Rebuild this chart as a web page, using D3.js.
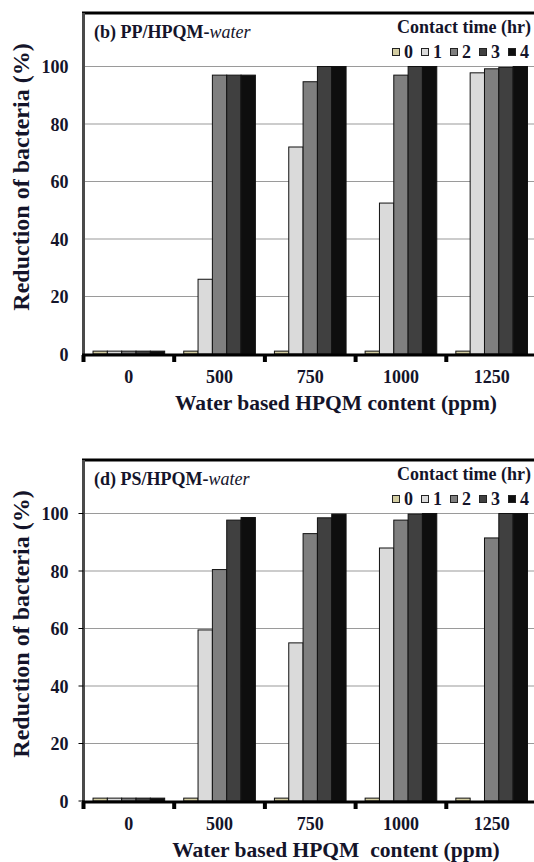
<!DOCTYPE html>
<html>
<head>
<meta charset="utf-8">
<title>Reduction of bacteria</title>
<script src="https://d3js.org/d3.v7.min.js"></script>
<style>
  body { margin: 0; background: #fff; }
</style>
</head>
<body>
<div id="chart"></div>
<script type="text/javascript">

  const categories = ["0", "500", "750", "1000", "1250"];
  const times = ["0", "1", "2", "3", "4"];
  const timeColors = ["#d3cda2", "#dadada", "#7f7f7f", "#404040", "#0e0e0e"];
  const yTicks = [0, 20, 40, 60, 80, 100];

  // (b) PP/HPQM-water, one array per contact time, values per category
  const pp0 = [1, 1, 1, 1, 1];
  const pp1 = [1, 26, 72, 52.5, 97.8];
  const pp2 = [1, 97, 94.7, 97, 99.2];
  const pp3 = [1, 97, 100, 100, 99.7];
  const pp4 = [1, 97, 100, 100, 100];

  // (d) PS/HPQM-water
  const ps0 = [1, 1, 1, 1, 1];
  const ps1 = [1, 59.5, 55, 88, 0];
  const ps2 = [1, 80.5, 93, 97.7, 91.5];
  const ps3 = [1, 97.7, 98.5, 99.8, 100];
  const ps4 = [1, 98.6, 99.8, 100, 100];

  const W = 534, H = 862;
  const left = 83.5, catStep = 90.7;
  const zeroY = 354, frameTop = 13, unit = 2.875;
  const INK = "#14142a";

  const svg = d3.select("#chart").append("svg")
    .attr("width", W)
    .attr("height", H);

  svg.append("rect").attr("width", W).attr("height", H).attr("fill", "#fff");

  const x0 = d3.scaleBand()
    .domain(categories)
    .range([left, left + catStep * categories.length])
    .paddingInner(0.21)
    .paddingOuter(0.105);

  const x1 = d3.scaleBand()
    .domain(times)
    .range([0, x0.bandwidth()]);

  const y = d3.scaleLinear()
    .domain([0, 120])
    .range([zeroY, zeroY - 120 * unit]);

  // serif bold text everywhere
  function setSerif(sel, size) {
    return sel.attr("font-family", "Liberation Serif")
      .style("font-family", '"Liberation Serif"')
      .style("font-weight", "bold")
      .style("font-size", size + "px")
      .style("fill", INK);
  }

  function buildPanel(offset, label, series, xTitle, leftTicks) {
    const g = svg.append("g").attr("transform", `translate(0,${offset})`);

    // gridlines
    g.selectAll(".grid")
      .data(yTicks.filter(d => d > 0))
      .enter().append("line")
      .attr("x1", left).attr("x2", W)
      .attr("y1", d => y(d)).attr("y2", d => y(d))
      .attr("stroke", "#9a9a9a").attr("stroke-width", 1.2);

    // bars
    const groups = g.selectAll(".cat")
      .data(categories)
      .enter().append("g")
      .attr("transform", d => `translate(${x0(d)},0)`);

    groups.selectAll("rect")
      .data((c, ci) => times.map((t, ti) => ({ t: t, v: series[ti][ci], ti: ti })))
      .enter().append("rect")
      .attr("x", d => x1(d.t))
      .attr("y", d => y(d.v))
      .attr("width", x1.bandwidth())
      .attr("height", d => y(0) - y(d.v))
      .attr("fill", d => timeColors[d.ti])
      .attr("stroke", d => d.v > 0 ? "#111" : "none")
      .attr("stroke-width", 1);

    // frame: top border, left axis, bottom axis
    g.append("line")
      .attr("x1", left - 1.5).attr("x2", W)
      .attr("y1", frameTop).attr("y2", frameTop)
      .attr("stroke", "#000").attr("stroke-width", 3);
    g.append("line")
      .attr("x1", left).attr("x2", left)
      .attr("y1", frameTop).attr("y2", zeroY + 1)
      .attr("stroke", "#4a4a4a").attr("stroke-width", 3);
    g.append("line")
      .attr("x1", left - 1.5).attr("x2", W)
      .attr("y1", zeroY + 1).attr("y2", zeroY + 1)
      .attr("stroke", "#000").attr("stroke-width", 3);

    // little tick blocks under the axis at category borders
    g.selectAll(".xtick")
      .data(d3.range(categories.length + 1))
      .enter().append("rect")
      .attr("x", i => left + i * x0.step() - 2)
      .attr("y", zeroY + 1)
      .attr("width", 4)
      .attr("height", 7)
      .attr("fill", "#000");

    if (leftTicks) {
      g.selectAll(".ytick")
        .data(yTicks)
        .enter().append("line")
        .attr("x1", left - 5).attr("x2", left)
        .attr("y1", d => y(d)).attr("y2", d => y(d))
        .attr("stroke", "#000").attr("stroke-width", 1);
    }

    // y axis labels
    const yAxis = g.append("g")
      .attr("transform", `translate(${left},0)`)
      .call(d3.axisLeft(y).tickValues(yTicks).tickSize(0).tickPadding(15));
    yAxis.select(".domain").remove();
    yAxis.attr("font-family", "Liberation Serif");
    setSerif(yAxis.selectAll("text"), 18).attr("dy", "0.35em");

    // x axis labels
    const xAxis = g.append("g")
      .attr("transform", `translate(0,${zeroY})`)
      .call(d3.axisBottom(x0).tickSize(0).tickPadding(0));
    xAxis.select(".domain").remove();
    xAxis.attr("font-family", "Liberation Serif");
    setSerif(xAxis.selectAll("text"), 18).attr("y", 29).attr("dy", 0);

    // axis titles
    setSerif(g.append("text"), 24)
      .attr("transform", `translate(29,177) rotate(-90)`)
      .attr("text-anchor", "middle")
      .text("Reduction of bacteria (%)");

    setSerif(g.append("text"), 21.5)
      .attr("x", 336)
      .attr("y", zeroY + 56)
      .attr("text-anchor", "middle")
      .style("white-space", "pre")
      .text(xTitle);

    // panel title
    const t = setSerif(g.append("text"), 18)
      .attr("x", 94)
      .attr("y", 38);
    t.append("tspan").text(label);
    t.append("tspan").style("font-style", "italic").style("font-weight", "normal").text("water");

    // legend
    setSerif(g.append("text"), 18)
      .attr("x", 531)
      .attr("y", 33)
      .attr("text-anchor", "end")
      .text("Contact time (hr)");

    const items = g.selectAll(".leg")
      .data(times)
      .enter().append("g")
      .attr("transform", (d, i) => `translate(${392 + i * 29},0)`);
    items.append("rect")
      .attr("x", 0.5).attr("y", 48.5)
      .attr("width", 7).attr("height", 7)
      .attr("fill", (d, i) => timeColors[i])
      .attr("stroke", "#222").attr("stroke-width", 1);
    setSerif(items.append("text"), 18)
      .attr("x", 12)
      .attr("y", 58)
      .text(d => d);
  }

  buildPanel(0, "(b) PP/HPQM-", [pp0, pp1, pp2, pp3, pp4], "Water based HPQM content (ppm)", false);
  buildPanel(447, "(d) PS/HPQM-", [ps0, ps1, ps2, ps3, ps4], "Water based HPQM  content (ppm)", true);

</script>
</body>
</html>
